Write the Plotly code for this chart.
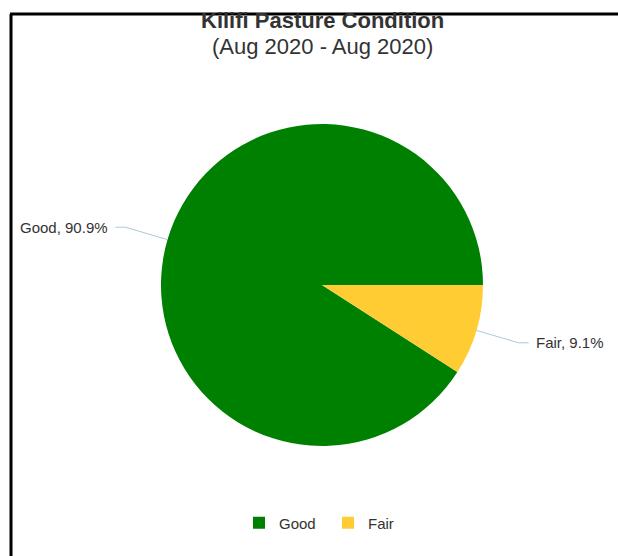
import math
import plotly.graph_objects as go

# Pasture condition shares for Kilifi, Aug 2020
categories = ["Good", "Fair"]
shares = [90.9, 9.1]
colors = ["#008000", "#ffcc33"]

W, H = 618, 556
CX, CY, R = 322, 285, 161  # pie centre and radius in pixels


def px(x):
    return x / W


def py(y):
    return 1 - y / H


total = sum(shares)

# Clockwise slices; the last slice (Fair) ends at 3 o'clock
fig = go.Figure(
    go.Pie(
        labels=categories,
        values=shares,
        marker=dict(colors=colors, line=dict(width=0)),
        sort=False,
        direction="clockwise",
        rotation=90 + 360.0 * shares[-1] / total,
        textinfo="none",
        hoverinfo="label+percent",
        domain=dict(x=[px(CX - R), px(CX + R)], y=[py(CY + R), py(CY - R)]),
    )
)

# Outside labels with connector lines, placed at each slice's mid-angle
shapes = []
annotations = []
start = 0.0  # degrees, counterclockwise from 3 o'clock
for name, v in zip(categories, shares):
    span = 360.0 * v / total
    mid = math.radians(start + span / 2)
    start += span
    c, s = math.cos(mid), math.sin(mid)
    ex, ey = CX + R * c, CY - R * s
    kx, ky = CX + (R + 44) * c, CY - (R + 44) * s
    side = 1 if c >= 0 else -1
    hx = kx + side * 10
    shapes.append(dict(
        type="path", xref="paper", yref="paper",
        path=f"M {px(ex)} {py(ey)} L {px(kx)} {py(ky)} L {px(hx)} {py(ky)}",
        line=dict(color="#a9cbd8", width=1),
    ))
    annotations.append(dict(
        x=px(hx + side * 5), y=py(ky), xref="paper", yref="paper",
        text=f"{name}, {v}%", showarrow=False,
        xanchor="left" if side > 0 else "right", yanchor="middle",
        font=dict(size=15, color="#333333"),
    ))

# Frame lines along the top and left edges
shapes.append(dict(type="line", xref="paper", yref="paper",
                   x0=px(10), x1=px(618), y0=py(14), y1=py(14),
                   line=dict(color="black", width=3)))
shapes.append(dict(type="line", xref="paper", yref="paper",
                   x0=px(11), x1=px(11), y0=py(14), y1=0,
                   line=dict(color="black", width=3)))

annotations.append(dict(
    x=px(322), y=py(20), xref="paper", yref="paper",
    text="<b>Kilifi Pasture Condition</b>", showarrow=False,
    xanchor="center", yanchor="middle",
    font=dict(size=22, color="#333333"),
))
annotations.append(dict(
    x=px(322), y=py(46), xref="paper", yref="paper",
    text="(Aug 2020 - Aug 2020)", showarrow=False,
    xanchor="center", yanchor="middle",
    font=dict(size=22, color="#333333"),
))

fig.update_layout(
    width=W, height=H,
    margin=dict(l=0, r=0, t=0, b=0),
    paper_bgcolor="white",
    plot_bgcolor="white",
    font=dict(family="Liberation Sans, Arial, sans-serif", color="#333333"),
    shapes=shapes,
    annotations=annotations,
    showlegend=True,
    legend=dict(
        orientation="h", x=px(239), xanchor="left",
        y=py(523), yanchor="middle",
        font=dict(size=15, color="#333333"),
        entrywidth=44, entrywidthmode="pixels",
    ),
)

fig.write_html("out.html", config={"displayModeBar": False})
